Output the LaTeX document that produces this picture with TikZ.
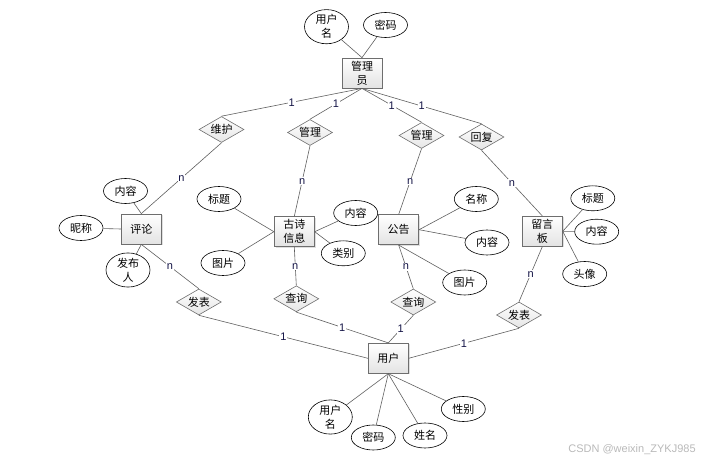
\documentclass[tikz,border=0pt]{standalone}
\usepackage{fontspec}
\newfontfamily\cjk{Noto Sans CJK SC}
\newfontfamily\lab{Liberation Sans}
\usetikzlibrary{shapes.geometric,shadows}
\definecolor{ln}{RGB}{95,95,95}
\definecolor{bd}{RGB}{110,110,110}
\definecolor{lbl}{RGB}{20,20,70}
\tikzset{
  ent/.style={rectangle, draw=bd, line width=0.8pt, top color=white, bottom color=gray!22,
    minimum width=40pt, minimum height=30pt, inner sep=0pt, align=center,
    font=\cjk\fontsize{11}{14}\selectfont,
    drop shadow={shadow xshift=1.2pt, shadow yshift=-1.2pt, opacity=0.25}},
  rel/.style={diamond, draw=bd, line width=0.6pt, top color=white, bottom color=gray!20,
    shape aspect=1.73, minimum width=45pt, minimum height=26pt, inner sep=0pt,
    font=\cjk\fontsize{11}{13}\selectfont},
  attr/.style={ellipse, draw=black, line width=0.6pt, fill=white, minimum width=44pt,
    minimum height=25pt, inner sep=0pt, align=center, font=\cjk\fontsize{11}{14}\selectfont},
  attr2/.style={attr, minimum height=30pt},
  conn/.style={draw=ln, line width=0.6pt},
  card/.style={fill=white, inner sep=0.8pt, text=lbl, font=\lab\fontsize{11}{11}\selectfont}
}
\begin{document}
\begin{tikzpicture}[x=1pt,y=-1pt]
\useasboundingbox (0,0) rectangle (721,462);
% entities
\node[ent] (mgr) at (362,73) {管理\\员};
\node[ent] (pl) at (141.3,229) {评论};
\node[ent] (poem) at (294.3,231.7) {古诗\\信息};
\node[ent] (ann) at (398.7,229.7) {公告};
\node[ent] (msg) at (542.3,231.3) {留言\\板};
\node[ent] (user) at (388.3,358.3) {用户};
% relations
\node[rel] (r1) at (221.5,129.5) {维护};
\node[rel] (r2) at (310,132.5) {管理};
\node[rel] (r3) at (421.5,135.5) {管理};
\node[rel] (r4) at (481.5,137) {回复};
\node[rel] (r5) at (198.8,302) {发表};
\node[rel] (r6) at (296.3,298.8) {查询};
\node[rel] (r7) at (413.3,302) {查询};
\node[rel] (r8) at (519,315) {发表};
% attributes
\node[attr2] (mu) at (326.5,26.7) {用户\\名};
\node[attr] (mp) at (385.5,25) {密码};
\node[attr] (plc) at (125.5,191) {内容};
\node[attr] (pln) at (81,228) {昵称};
\node[attr2] (plp) at (128,270) {发布\\人};
\node[attr] (pot) at (219,199) {标题};
\node[attr] (pop) at (223,263) {图片};
\node[attr] (poc) at (355.7,213) {内容};
\node[attr] (pok) at (343.3,253.3) {类别};
\node[attr] (ann1) at (476.3,199) {名称};
\node[attr] (ann2) at (487,242.5) {内容};
\node[attr] (ann3) at (464.7,282.5) {图片};
\node[attr] (msg1) at (592.8,198.3) {标题};
\node[attr] (msg2) at (596.7,231.7) {内容};
\node[attr] (msg3) at (584.7,274) {头像};
\node[attr2] (u1) at (330.3,417) {用户\\名};
\node[attr] (u2) at (373.3,437.5) {密码};
\node[attr] (u3) at (425,435.5) {姓名};
\node[attr] (u4) at (463.3,409) {性别};
% attribute links
\draw[conn] (mu) -- (mgr.north);
\draw[conn] (mp) -- (mgr.north);
\draw[conn] (plc) -- (pl.north);
\draw[conn] (pln) -- (pl.west);
\draw[conn] (plp) -- (pl.south);
\draw[conn] (pot) -- (poem.west);
\draw[conn] (pop) -- (poem.west);
\draw[conn] (poc) -- (poem.east);
\draw[conn] (pok) -- (poem.east);
\draw[conn] (ann1) -- (ann.east);
\draw[conn] (ann2) -- (ann.east);
\draw[conn] (ann3) -- (ann.south);
\draw[conn] (msg1) -- (msg.east);
\draw[conn] (msg2) -- (msg.east);
\draw[conn] (msg3) -- (msg.east);
\draw[conn] (u1) -- (user.south);
\draw[conn] (u2) -- (user.south);
\draw[conn] (u3) -- (user.south);
\draw[conn] (u4) -- (user.south);
% relationship links
\draw[conn] (mgr.south) -- node[card] {1} (r1.north);
\draw[conn] (mgr.south) -- node[card] {1} (r2.north);
\draw[conn] (mgr.south) -- node[card] {1} (r3.north);
\draw[conn] (mgr.south) -- node[card] {1} (r4.north);
\draw[conn] (r1.south) -- node[card] {n} (pl.north);
\draw[conn] (r2.south) -- node[card] {n} (poem.north);
\draw[conn] (r3.south) -- node[card] {n} (ann.north);
\draw[conn] (r4.south) -- node[card] {n} (msg.north);
\draw[conn] (pl.south) -- node[card] {n} (r5.north);
\draw[conn] (poem.south) -- node[card] {n} (r6.north);
\draw[conn] (ann.south) -- node[card] {n} (r7.north);
\draw[conn] (msg.south) -- node[card] {n} (r8.north);
\draw[conn] (r5.south) -- node[card] {1} (user.west);
\draw[conn] (r6.south) -- node[card] {1} (user.north);
\draw[conn] (r7.south) -- node[card] {1} (user.north);
\draw[conn] (r8.south) -- node[card] {1} (user.east);
% watermark
\node[text=gray!55, font=\lab\fontsize{11}{11}\selectfont] (wm) at (632,450) {CSDN @weixin\_ZYKJ985};
\end{tikzpicture}
\end{document}
